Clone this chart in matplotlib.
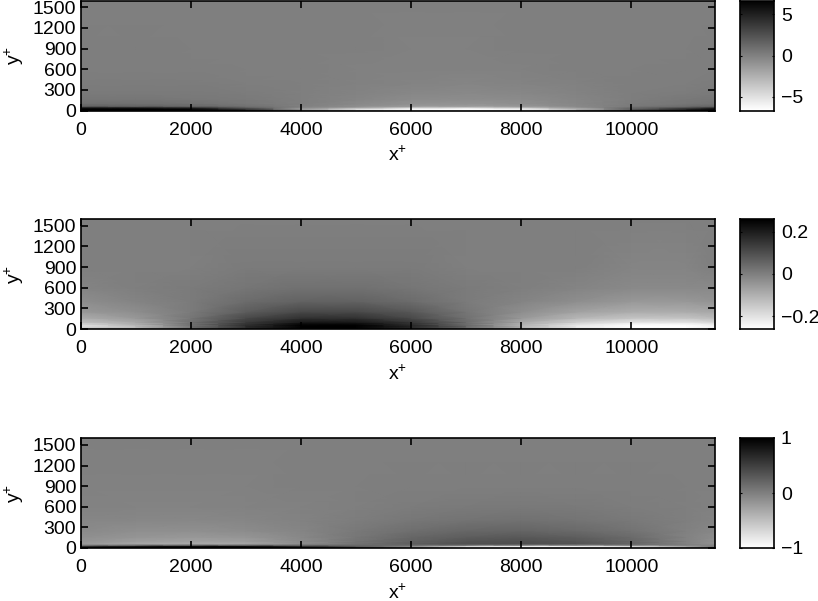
import numpy as np
import matplotlib
matplotlib.use("Agg")
import matplotlib.pyplot as plt

plt.rcParams['font.family'] = ['Liberation Sans', 'DejaVu Sans']
plt.rcParams['mathtext.fontset'] = 'custom'
plt.rcParams['mathtext.rm'] = 'Liberation Sans'
plt.rcParams['mathtext.default'] = 'regular'

x_stations = [0, 1000, 2000, 3000, 4000, 5000, 6000, 7000, 8000, 9000, 10000, 11000, 11520]
y_levels = [0, 10, 25, 45, 65, 100, 160, 250, 400, 600, 900, 1600]

field_top = [
 [6.7, 6.7, 6.7, 6.0, 3.0, 1.0, -1.0, -2.0, -1.0, 1.5, 4.0, 6.7, 6.7],
 [6.7, 6.7, 6.7, 5.0, -1.0, -5.5, -6.7, -6.7, -6.0, -2.5, 3.0, 5.5, 6.7],
 [6.7, 6.7, 6.2, 3.5, -1.5, -4.5, -6.2, -6.7, -5.8, -2.5, 1.5, 4.5, 6.2],
 [5.2, 5.0, 4.2, 1.8, -0.4, -1.8, -3.8, -4.2, -3.2, -1.2, 1.0, 2.5, 4.0],
 [1.5, 1.4, 1.2, 0.7, -0.1, -0.7, -1.3, -1.5, -1.2, -0.5, 0.3, 0.9, 1.3],
 [0.8, 0.8, 0.7, 0.4, 0.0, -0.5, -0.9, -1.0, -0.8, -0.4, 0.2, 0.5, 0.7],
 [0.5, 0.5, 0.4, 0.3, 0.0, -0.3, -0.6, -0.7, -0.6, -0.3, 0.1, 0.4, 0.5],
 [0.3, 0.3, 0.3, 0.2, 0.0, -0.2, -0.4, -0.5, -0.4, -0.2, 0.1, 0.2, 0.3],
 [0.2, 0.2, 0.2, 0.1, 0.0, -0.1, -0.2, -0.3, -0.2, -0.1, 0.1, 0.1, 0.2],
 [0.1, 0.1, 0.1, 0.0, 0.0, -0.1, -0.1, -0.1, -0.1, 0.0, 0.0, 0.1, 0.1],
 [0.1, 0.1, 0.0, 0.0, 0.0, 0.0, -0.1, -0.1, 0.0, 0.0, 0.0, 0.0, 0.1],
 [0.0, 0.0, 0.0, 0.0, 0.0, 0.0, 0.0, 0.0, 0.0, 0.0, 0.0, 0.0, 0.0],
]
field_mid = [
 [-0.07, -0.05, 0.00, 0.09, 0.15, 0.15, 0.10, 0.02, -0.03, -0.06, -0.07, -0.07, -0.07],
 [-0.11, -0.08, 0.02, 0.14, 0.24, 0.24, 0.15, 0.04, -0.07, -0.14, -0.17, -0.17, -0.15],
 [-0.17, -0.12, 0.03, 0.17, 0.26, 0.26, 0.18, 0.05, -0.10, -0.21, -0.26, -0.26, -0.23],
 [-0.20, -0.12, 0.03, 0.17, 0.26, 0.26, 0.18, 0.05, -0.11, -0.22, -0.26, -0.26, -0.23],
 [-0.18, -0.10, 0.03, 0.16, 0.25, 0.25, 0.17, 0.04, -0.10, -0.20, -0.25, -0.25, -0.22],
 [-0.13, -0.08, 0.03, 0.14, 0.21, 0.21, 0.15, 0.04, -0.08, -0.16, -0.20, -0.20, -0.17],
 [-0.09, -0.05, 0.02, 0.11, 0.16, 0.16, 0.11, 0.03, -0.05, -0.11, -0.14, -0.14, -0.12],
 [-0.05, -0.03, 0.01, 0.07, 0.11, 0.11, 0.08, 0.02, -0.03, -0.07, -0.09, -0.09, -0.08],
 [-0.03, -0.01, 0.01, 0.04, 0.06, 0.06, 0.04, 0.01, -0.01, -0.03, -0.05, -0.05, -0.04],
 [-0.01, 0.00, 0.01, 0.02, 0.03, 0.03, 0.02, 0.01, 0.00, -0.01, -0.02, -0.02, -0.02],
 [0.00, 0.00, 0.00, 0.01, 0.01, 0.01, 0.01, 0.00, 0.00, 0.00, -0.01, -0.01, 0.00],
 [0.00, 0.00, 0.00, 0.00, 0.00, 0.00, 0.00, 0.00, 0.00, 0.00, 0.00, 0.00, 0.00],
]
field_bot = [
 [1.0, 1.0, 1.0, 1.0, 1.0, 0.6, 0.1, -0.6, -0.8, -0.8, -0.7, -0.2, 0.3],
 [0.9, 1.0, 1.0, 1.0, 0.9, 0.5, -0.2, -0.9, -1.0, -1.0, -0.9, -0.4, 0.2],
 [0.7, 0.9, 1.0, 1.0, 0.7, 0.3, -0.1, -0.8, -1.0, -1.0, -0.8, -0.3, 0.1],
 [-0.05, 0.05, 0.1, 0.1, 0.1, 0.15, 0.18, 0.2, 0.1, 0.05, 0.1, 0.0, -0.05],
 [-0.20, -0.30, -0.34, -0.30, -0.11, 0.10, 0.26, 0.36, 0.38, 0.34, 0.21, -0.02, -0.13],
 [-0.16, -0.23, -0.26, -0.23, -0.09, 0.09, 0.23, 0.33, 0.36, 0.32, 0.20, -0.02, -0.12],
 [-0.12, -0.17, -0.19, -0.17, -0.07, 0.07, 0.19, 0.27, 0.30, 0.26, 0.16, -0.02, -0.10],
 [-0.08, -0.12, -0.13, -0.10, -0.04, 0.05, 0.13, 0.19, 0.21, 0.17, 0.10, -0.01, -0.06],
 [-0.05, -0.06, -0.07, -0.05, -0.02, 0.02, 0.07, 0.10, 0.11, 0.09, 0.05, 0.00, -0.03],
 [-0.02, -0.03, -0.03, -0.02, -0.01, 0.00, 0.03, 0.04, 0.05, 0.04, 0.02, 0.00, -0.01],
 [-0.01, -0.01, -0.01, -0.01, 0.00, 0.00, 0.01, 0.01, 0.01, 0.01, 0.01, 0.00, 0.00],
 [0.00, 0.00, 0.00, 0.00, 0.00, 0.00, 0.00, 0.00, 0.00, 0.00, 0.00, 0.00, 0.00],
]
fields = [field_top, field_mid, field_bot]
limits = [6.7, 0.26, 1.0]
cbar_ticks = [[-5, 0, 5], [-0.2, 0, 0.2], [-1, 0, 1]]
cbar_labels = [['\u22125', '0', '5'], ['\u22120.2', '0', '0.2'], ['\u22121', '0', '1']]
x_ticks = [0, 2000, 4000, 6000, 8000, 10000]
y_ticks = [0, 300, 600, 900, 1200, 1500]

W, H = 818, 601
FS = 14
fig = plt.figure(figsize=(W/100, H/100), dpi=100)

def frac_rect(l, t, r, b):
    return [l/W, 1 - b/H, (r-l)/W, (b-t)/H]

panels = [(0.5, 110.5), (219, 329), (438, 548)]
for (top, bot), f, lim, ct, cl in zip(panels, fields, limits, cbar_ticks, cbar_labels):
    ax = fig.add_axes(frac_rect(80.5, top, 715, bot))
    ax.pcolormesh(x_stations, y_levels, np.array(f), cmap='gray_r', vmin=-lim, vmax=lim,
                  shading='gouraud')
    ax.set_xlim(0, 11520)
    ax.set_ylim(0, 1600)
    ax.set_xticks(x_ticks)
    ax.set_yticks(y_ticks)
    ax.tick_params(direction='in', length=5, width=1.2, top=True, right=True, labelsize=FS)
    ax.tick_params(axis='x', pad=8)
    ax.tick_params(axis='y', pad=3)
    ax.set_xlabel('x$^{+}$', fontsize=FS, labelpad=5)
    ax.set_ylabel('y$^{+}$', fontsize=FS, labelpad=5)
    for s in ax.spines.values():
        s.set_linewidth(1.2)

    cax = fig.add_axes(frac_rect(740, top, 774, bot))
    grad = np.linspace(-lim, lim, 256).reshape(-1, 1)
    cax.imshow(grad, cmap='gray_r', vmin=-lim, vmax=lim, origin='lower', aspect='auto',
               extent=[0, 1, -lim, lim])
    cax.set_xticks([])
    cax.set_yticks(ct)
    cax.set_yticklabels(cl)
    cax.yaxis.tick_right()
    cax.tick_params(direction='in', length=1.5, width=0.8, left=True, right=True,
                    labelsize=FS, pad=5)
    for s in cax.spines.values():
        s.set_linewidth(1.2)

fig.savefig('out.png', dpi=100)
